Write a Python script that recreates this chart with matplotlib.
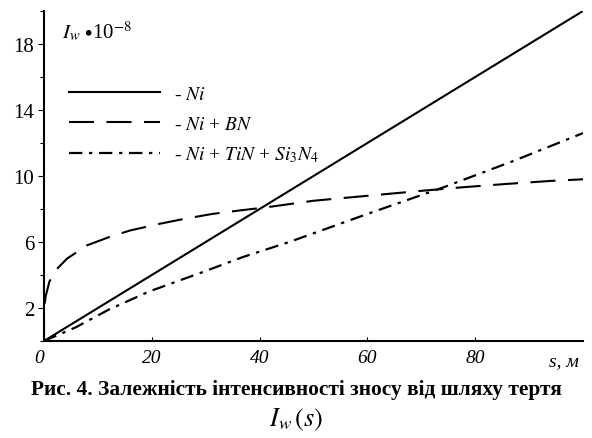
import matplotlib
matplotlib.use('Agg')
import matplotlib.pyplot as plt
from matplotlib.ticker import MultipleLocator

plt.rcParams['font.family'] = ['Liberation Serif', 'DejaVu Serif']
plt.rcParams['mathtext.fontset'] = 'stix'

# wear intensity I_w * 1e-8 vs. friction path s, m
s_ni = [0, 100]
iw_ni = [0, 20]

s_bn = [0, 0, 0.3, 1.0, 2.2, 4.3, 8, 12.1, 16, 21.4, 26, 31.2, 36, 41.2, 50, 60, 70, 77, 85, 93.9, 100]
iw_bn = [0, 1.9, 2.7, 3.6, 4.3, 5.0, 5.8, 6.3, 6.7, 7.1, 7.4, 7.7, 7.9, 8.1, 8.5, 8.8, 9.1, 9.3, 9.5, 9.7, 9.8]

s_tin = [0, 5.9, 12, 19.5, 28.8, 37, 45.5, 60, 74, 87, 100]
iw_tin = [0, 0.83, 1.9, 3.0, 4.1, 5.1, 6.0, 7.7, 9.3, 10.9, 12.6]

x_ticks = [0, 20, 40, 60, 80]
y_ticks = [2, 6, 10, 14, 18]
labels = ['- $Ni$', '- $Ni$ + $BN$', '- $Ni$ + $TiN$ + $Si_3N_4$']

fig = plt.figure(figsize=(5.92, 4.39), dpi=100)
ax = fig.add_axes([44 / 592, 97 / 439, 539 / 592, 330 / 439])

ax.plot(s_ni, iw_ni, color='black', lw=1.5, label=labels[0])
ax.plot(s_bn, iw_bn, color='black', lw=1.5, dashes=(12, 6), label=labels[1])
ax.plot(s_tin, iw_tin, color='black', lw=1.6, dashes=(6, 3, 1.5, 3), label=labels[2])

ax.set_xlim(0, 100)
ax.set_ylim(0, 20)
for side in ['top', 'right']:
    ax.spines[side].set_visible(False)
for side in ['left', 'bottom']:
    ax.spines[side].set_linewidth(1.5)

ax.set_xticks(x_ticks)
ax.set_xticklabels([str(v) for v in x_ticks], fontsize=14, style='italic')
ax.get_xticklabels()[0].set_horizontalalignment('right')
ax.set_yticks(y_ticks)
ax.set_yticklabels([str(v) for v in y_ticks], fontsize=15)
ax.yaxis.set_minor_locator(MultipleLocator(2))
ax.tick_params(axis='x', direction='in', length=3, width=0.8, pad=6)
ax.tick_params(axis='y', which='major', direction='out', length=4, width=0.8, pad=3)
ax.tick_params(axis='y', which='minor', direction='out', length=3, width=0.8)

ax.annotate('s, м', xy=(96.5, 0), xycoords=('data', 'axes fraction'),
            xytext=(0, -8), textcoords='offset points',
            ha='center', va='top', fontsize=14, style='italic')
ax.text(0.033, 0.94, r'$I_w$ $\bullet$10$^{-8}$', transform=ax.transAxes,
        fontsize=15, ha='left', va='center')

ax.legend(loc='upper left', bbox_to_anchor=(0.046, 0.775), frameon=False,
          fontsize=14, handlelength=4.7, handletextpad=0.7, labelspacing=0.62,
          borderpad=0, borderaxespad=0)

fig.text(0.5, 1 - 390 / 439, 'Рис. 4. Залежність інтенсивності зносу від шляху тертя',
         ha='center', va='center', fontsize=15.4, fontweight='bold')
fig.text(0.5, 1 - 420 / 439, r'$I_w\,(s)$',
         ha='center', va='center', fontsize=19)

fig.savefig('out.png', dpi=100)
